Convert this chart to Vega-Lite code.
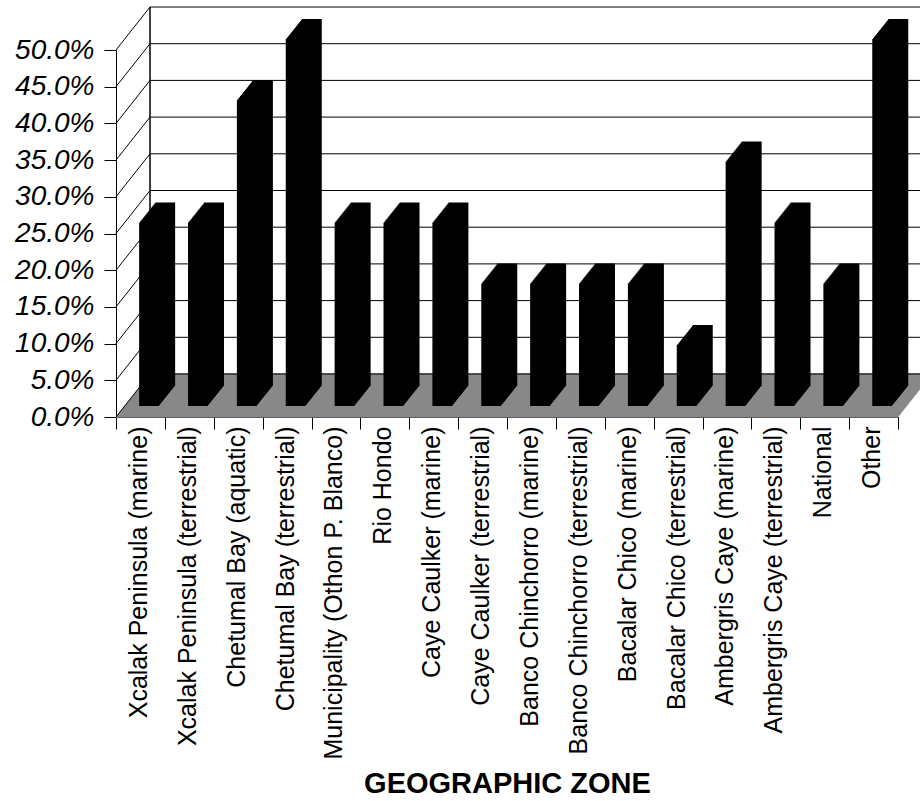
{"$schema":"https://vega.github.io/schema/vega-lite/v6.json","autosize":"none","width":804,"height":411,"padding":{"left":116,"top":6,"right":0,"bottom":384},"background":"white","config":{"view":{"stroke":null},"font":"Liberation Sans","axis":{"grid":false,"zindex":1,"tickSize":12,"tickColor":"black","domainColor":"black","labelColor":"black","labelFont":"Liberation Sans","titleFont":"Liberation Sans","titleColor":"black"},"axisX":{"tickBand":"extent","labelAngle":-90,"labelAlign":"right","labelBaseline":"middle","labelFontSize":25,"labelPadding":-3,"labelOffset":-2,"labelOverlap":false,"labelLimit":400,"titleFontSize":29,"titleFontWeight":"bold","titleY":352},"axisY":{"format":".1%","tickCount":11,"labelFontSize":28,"labelFontStyle":"italic","labelPadding":10}},
"datasets":{"rows":[{"zone":"Xcalak Peninsula (marine)","share":0.25},{"zone":"Xcalak Peninsula (terrestrial)","share":0.25},{"zone":"Chetumal Bay (aquatic)","share":0.417},{"zone":"Chetumal Bay (terrestrial)","share":0.5},{"zone":"Municipality (Othon P. Blanco)","share":0.25},{"zone":"Rio Hondo","share":0.25},{"zone":"Caye Caulker (marine)","share":0.25},{"zone":"Caye Caulker (terrestrial)","share":0.167},{"zone":"Banco Chinchorro (marine)","share":0.167},{"zone":"Banco Chinchorro (terrestrial)","share":0.167},{"zone":"Bacalar Chico (marine)","share":0.167},{"zone":"Bacalar Chico (terrestrial)","share":0.083},{"zone":"Ambergris Caye (marine)","share":0.333},{"zone":"Ambergris Caye (terrestrial)","share":0.25},{"zone":"National","share":0.167},{"zone":"Other","share":0.5}],"ticks":[{"t":0},{"t":0.05},{"t":0.1},{"t":0.15},{"t":0.2},{"t":0.25},{"t":0.3},{"t":0.35},{"t":0.4},{"t":0.45},{"t":0.5}]},
"layer":[
{"data":{"values":[{}]},"encoding":{"x":{"datum":"Xcalak Peninsula (marine)","type":"nominal","title":"GEOGRAPHIC ZONE","scale":{"type":"band","paddingInner":0,"paddingOuter":0,"range":[0,782],"domain":["Xcalak Peninsula (marine)","Xcalak Peninsula (terrestrial)","Chetumal Bay (aquatic)","Chetumal Bay (terrestrial)","Municipality (Othon P. Blanco)","Rio Hondo","Caye Caulker (marine)","Caye Caulker (terrestrial)","Banco Chinchorro (marine)","Banco Chinchorro (terrestrial)","Bacalar Chico (marine)","Bacalar Chico (terrestrial)","Ambergris Caye (marine)","Ambergris Caye (terrestrial)","National","Other"]}},"x2":{"datum":"Other"},"y":{"datum":0,"type":"quantitative","title":null,"scale":{"domain":[0,0.5],"range":[411,44],"nice":false}},"color":{"value":"#808080"},"strokeWidth":{"value":1.6}},
"layer":[
{"mark":{"type":"rule","xOffset":-24.44,"x2Offset":24.44,"yOffset":0}},
{"mark":{"type":"rule","xOffset":-23.65,"x2Offset":25.23,"yOffset":-1}},
{"mark":{"type":"rule","xOffset":-22.86,"x2Offset":26.02,"yOffset":-2}},
{"mark":{"type":"rule","xOffset":-22.07,"x2Offset":26.81,"yOffset":-3}},
{"mark":{"type":"rule","xOffset":-21.28,"x2Offset":27.6,"yOffset":-4}},
{"mark":{"type":"rule","xOffset":-20.49,"x2Offset":28.39,"yOffset":-5}},
{"mark":{"type":"rule","xOffset":-19.7,"x2Offset":29.18,"yOffset":-6}},
{"mark":{"type":"rule","xOffset":-18.91,"x2Offset":29.97,"yOffset":-7}},
{"mark":{"type":"rule","xOffset":-18.12,"x2Offset":30.76,"yOffset":-8}},
{"mark":{"type":"rule","xOffset":-17.33,"x2Offset":31.55,"yOffset":-9}},
{"mark":{"type":"rule","xOffset":-16.54,"x2Offset":32.34,"yOffset":-10}},
{"mark":{"type":"rule","xOffset":-15.75,"x2Offset":33.13,"yOffset":-11}},
{"mark":{"type":"rule","xOffset":-14.96,"x2Offset":33.92,"yOffset":-12}},
{"mark":{"type":"rule","xOffset":-14.17,"x2Offset":34.71,"yOffset":-13}},
{"mark":{"type":"rule","xOffset":-13.38,"x2Offset":35.5,"yOffset":-14}},
{"mark":{"type":"rule","xOffset":-12.59,"x2Offset":36.29,"yOffset":-15}},
{"mark":{"type":"rule","xOffset":-11.8,"x2Offset":37.08,"yOffset":-16}},
{"mark":{"type":"rule","xOffset":-11.01,"x2Offset":37.87,"yOffset":-17}},
{"mark":{"type":"rule","xOffset":-10.22,"x2Offset":38.66,"yOffset":-18}},
{"mark":{"type":"rule","xOffset":-9.43,"x2Offset":39.45,"yOffset":-19}},
{"mark":{"type":"rule","xOffset":-8.64,"x2Offset":40.24,"yOffset":-20}},
{"mark":{"type":"rule","xOffset":-7.85,"x2Offset":41.03,"yOffset":-21}},
{"mark":{"type":"rule","xOffset":-7.06,"x2Offset":41.82,"yOffset":-22}},
{"mark":{"type":"rule","xOffset":-6.27,"x2Offset":42.61,"yOffset":-23}},
{"mark":{"type":"rule","xOffset":-5.48,"x2Offset":43.4,"yOffset":-24}},
{"mark":{"type":"rule","xOffset":-4.69,"x2Offset":44.19,"yOffset":-25}},
{"mark":{"type":"rule","xOffset":-3.9,"x2Offset":44.98,"yOffset":-26}},
{"mark":{"type":"rule","xOffset":-3.11,"x2Offset":45.77,"yOffset":-27}},
{"mark":{"type":"rule","xOffset":-2.32,"x2Offset":46.56,"yOffset":-28}},
{"mark":{"type":"rule","xOffset":-1.53,"x2Offset":47.35,"yOffset":-29}},
{"mark":{"type":"rule","xOffset":-0.74,"x2Offset":48.14,"yOffset":-30}},
{"mark":{"type":"rule","xOffset":0.05,"x2Offset":48.93,"yOffset":-31}},
{"mark":{"type":"rule","xOffset":0.84,"x2Offset":49.72,"yOffset":-32}},
{"mark":{"type":"rule","xOffset":1.63,"x2Offset":50.51,"yOffset":-33}},
{"mark":{"type":"rule","xOffset":2.42,"x2Offset":51.3,"yOffset":-34}},
{"mark":{"type":"rule","xOffset":3.21,"x2Offset":52.09,"yOffset":-35}},
{"mark":{"type":"rule","xOffset":4,"x2Offset":52.88,"yOffset":-36}},
{"mark":{"type":"rule","xOffset":4.79,"x2Offset":53.67,"yOffset":-37}},
{"mark":{"type":"rule","xOffset":5.58,"x2Offset":54.46,"yOffset":-38}},
{"mark":{"type":"rule","xOffset":6.37,"x2Offset":55.25,"yOffset":-39}},
{"mark":{"type":"rule","xOffset":7.16,"x2Offset":56.04,"yOffset":-40}},
{"mark":{"type":"rule","xOffset":7.95,"x2Offset":56.83,"yOffset":-41}},
{"mark":{"type":"rule","xOffset":8.74,"x2Offset":57.62,"yOffset":-42}},
{"mark":{"type":"rule","xOffset":9.56,"x2Offset":58.44,"yOffset":-43}}
]},
{"data":{"name":"ticks"},"mark":{"type":"rule","color":"black","strokeWidth":1,"xOffset":-24.44,"x2Offset":9.56,"y2Offset":-43},"encoding":{"x":{"datum":"Xcalak Peninsula (marine)","type":"nominal","title":"GEOGRAPHIC ZONE"},"x2":{"datum":"Xcalak Peninsula (marine)"},"y":{"field":"t","type":"quantitative","title":null},"y2":{"field":"t"}}},
{"data":{"name":"ticks"},"mark":{"type":"rule","color":"black","strokeWidth":1,"xOffset":9.56,"x2Offset":58.44,"yOffset":-43},"encoding":{"x":{"datum":"Xcalak Peninsula (marine)","type":"nominal","title":"GEOGRAPHIC ZONE"},"x2":{"datum":"Other"},"y":{"field":"t","type":"quantitative","title":null}}},
{"data":{"values":[{}]},"mark":{"type":"rule","color":"black","strokeWidth":1.5,"xOffset":9.56,"x2Offset":9.56,"yOffset":-43,"y2Offset":-43},"encoding":{"x":{"datum":"Xcalak Peninsula (marine)","type":"nominal","title":"GEOGRAPHIC ZONE"},"y":{"datum":0,"type":"quantitative","title":null},"y2":{"datum":0.5}}},
{"data":{"name":"rows"},"encoding":{"x":{"field":"zone","type":"nominal","title":"GEOGRAPHIC ZONE"},"y":{"field":"share","type":"quantitative","title":null},"color":{"value":"#000000"}},
"layer":[
{"mark":{"type":"bar","width":20,"xOffset":24.7,"yOffset":-31,"y2Offset":-31}},
{"mark":{"type":"bar","width":20,"xOffset":23.9,"yOffset":-30,"y2Offset":-30}},
{"mark":{"type":"bar","width":20,"xOffset":23.1,"yOffset":-29,"y2Offset":-29}},
{"mark":{"type":"bar","width":20,"xOffset":22.3,"yOffset":-28,"y2Offset":-28}},
{"mark":{"type":"bar","width":20,"xOffset":21.5,"yOffset":-27,"y2Offset":-27}},
{"mark":{"type":"bar","width":20,"xOffset":20.7,"yOffset":-26,"y2Offset":-26}},
{"mark":{"type":"bar","width":20,"xOffset":19.9,"yOffset":-25,"y2Offset":-25}},
{"mark":{"type":"bar","width":20,"xOffset":19.1,"yOffset":-24,"y2Offset":-24}},
{"mark":{"type":"bar","width":20,"xOffset":18.3,"yOffset":-23,"y2Offset":-23}},
{"mark":{"type":"bar","width":20,"xOffset":17.5,"yOffset":-22,"y2Offset":-22}},
{"mark":{"type":"bar","width":20,"xOffset":16.7,"yOffset":-21,"y2Offset":-21}},
{"mark":{"type":"bar","width":20,"xOffset":15.9,"yOffset":-20,"y2Offset":-20}},
{"mark":{"type":"bar","width":20,"xOffset":15.1,"yOffset":-19,"y2Offset":-19}},
{"mark":{"type":"bar","width":20,"xOffset":14.3,"yOffset":-18,"y2Offset":-18}},
{"mark":{"type":"bar","width":20,"xOffset":13.5,"yOffset":-17,"y2Offset":-17}},
{"mark":{"type":"bar","width":20,"xOffset":12.7,"yOffset":-16,"y2Offset":-16}},
{"mark":{"type":"bar","width":20,"xOffset":11.9,"yOffset":-15,"y2Offset":-15}},
{"mark":{"type":"bar","width":20,"xOffset":11.1,"yOffset":-14,"y2Offset":-14}},
{"mark":{"type":"bar","width":20,"xOffset":10.3,"yOffset":-13,"y2Offset":-13}},
{"mark":{"type":"bar","width":20,"xOffset":9.5,"yOffset":-12,"y2Offset":-12}},
{"mark":{"type":"bar","width":20,"xOffset":8.7,"yOffset":-11,"y2Offset":-11}}
]}
]}
